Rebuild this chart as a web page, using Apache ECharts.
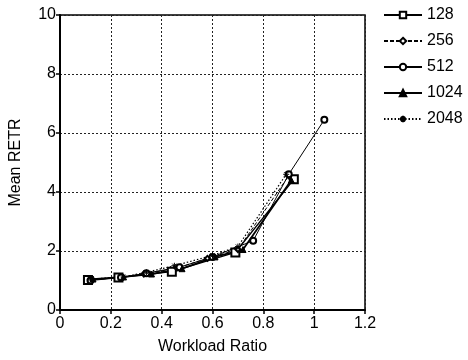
<!DOCTYPE html>
<html>
<head>
<meta charset="utf-8">
<script src="https://cdn.jsdelivr.net/npm/echarts@6/dist/echarts.min.js"></script>
<style>
  html, body { margin: 0; padding: 0; background: #fff; }
  #chart { width: 468px; height: 360px; }
</style>
</head>
<body>
<div id="chart"></div>
<script>
// series data (x = workload ratio, y = mean RETR)
const x128 = [0.11, 0.23, 0.44, 0.69, 0.92];
const y128 = [1.02, 1.1, 1.3, 1.95, 4.43];
const x256 = [0.12, 0.24, 0.33, 0.46, 0.58, 0.70, 0.90];
const y256 = [1.03, 1.1, 1.22, 1.42, 1.75, 2.05, 4.55];
const x512 = [0.12, 0.24, 0.34, 0.47, 0.60, 0.76, 0.90, 1.04];
const y512 = [1.0, 1.1, 1.25, 1.45, 1.8, 2.35, 4.6, 6.45];
const x1024 = [0.13, 0.25, 0.36, 0.48, 0.61, 0.72, 0.91];
const y1024 = [1.05, 1.12, 1.22, 1.4, 1.8, 2.05, 4.4];
const x2048 = [0.12, 0.25, 0.34, 0.45, 0.60, 0.70, 0.89];
const y2048 = [1.05, 1.12, 1.28, 1.5, 1.85, 2.15, 4.6];

const seriesNames = ['128', '256', '512', '1024', '2048'];
const xTicks = [0, 0.2, 0.4, 0.6, 0.8, 1, 1.2];
const yTicks = [0, 2, 4, 6, 8, 10];

const FONT = 'Liberation Sans';
const pair = (xs, ys) => xs.map((x, i) => [x, ys[i]]);

const chart = echarts.init(document.getElementById('chart'));

const mk = (name, data, symbol, size, lineStyle) => ({
  name: name,
  type: 'line',
  data: data,
  symbol: symbol,
  symbolSize: size,
  showSymbol: true,
  lineStyle: Object.assign({ color: '#000', width: 1.2 }, lineStyle),
  itemStyle: { color: '#000', borderColor: '#000', borderWidth: 1 },
  animation: false,
  z: 3
});

chart.setOption({
  backgroundColor: '#fff',
  textStyle: { fontFamily: FONT, color: '#000' },
  grid: {
    left: 59, top: 15, right: 103, bottom: 47,
    show: true, borderColor: '#000', borderWidth: 1.5
  },
  legend: {
    orient: 'vertical',
    left: 378,
    top: 2,
    padding: 5,
    itemWidth: 38,
    itemHeight: 8,
    itemGap: 10,
    textStyle: { fontFamily: FONT, fontSize: 16, color: '#000' },
    data: seriesNames
  },
  xAxis: {
    type: 'value',
    min: xTicks[0],
    max: xTicks[xTicks.length - 1],
    interval: 0.2,
    name: 'Workload Ratio',
    nameLocation: 'middle',
    nameGap: 29,
    nameTextStyle: { fontFamily: FONT, fontSize: 16, color: '#000' },
    axisLine: { lineStyle: { color: '#000', width: 2 } },
    axisTick: { show: true, length: 4, lineStyle: { color: '#000', width: 1.5 } },
    axisLabel: { fontFamily: FONT, fontSize: 16, color: '#000', margin: 6 },
    splitLine: { show: true, lineStyle: { color: '#222', type: [2, 2], width: 1 } }
  },
  yAxis: {
    type: 'value',
    min: yTicks[0],
    max: yTicks[yTicks.length - 1],
    interval: 2,
    name: 'Mean RETR',
    nameLocation: 'middle',
    nameGap: 36,
    nameTextStyle: { fontFamily: FONT, fontSize: 16, color: '#000' },
    axisLine: { show: true, lineStyle: { color: '#000', width: 2 } },
    axisTick: { show: true, length: 4, lineStyle: { color: '#000', width: 1.5 } },
    axisLabel: { fontFamily: FONT, fontSize: 16, color: '#000', margin: 4 },
    splitLine: { show: true, lineStyle: { color: '#222', type: [2, 2], width: 1 } }
  },
  series: [
    mk('128', pair(x128, y128), 'emptyRect', 8, { width: 1.3 }),
    mk('256', pair(x256, y256), 'emptyDiamond', 5, { type: [4, 2], width: 1 }),
    mk('512', pair(x512, y512), 'emptyCircle', 6, { width: 1 }),
    mk('1024', pair(x1024, y1024), 'triangle', 6, { width: 1.8 }),
    mk('2048', pair(x2048, y2048), 'path://M0,5L10,5M5,0L5,10M1.5,1.5L8.5,8.5M8.5,1.5L1.5,8.5', 6, { type: [1.5, 2], width: 1.2 })
  ]
});
</script>
</body>
</html>
